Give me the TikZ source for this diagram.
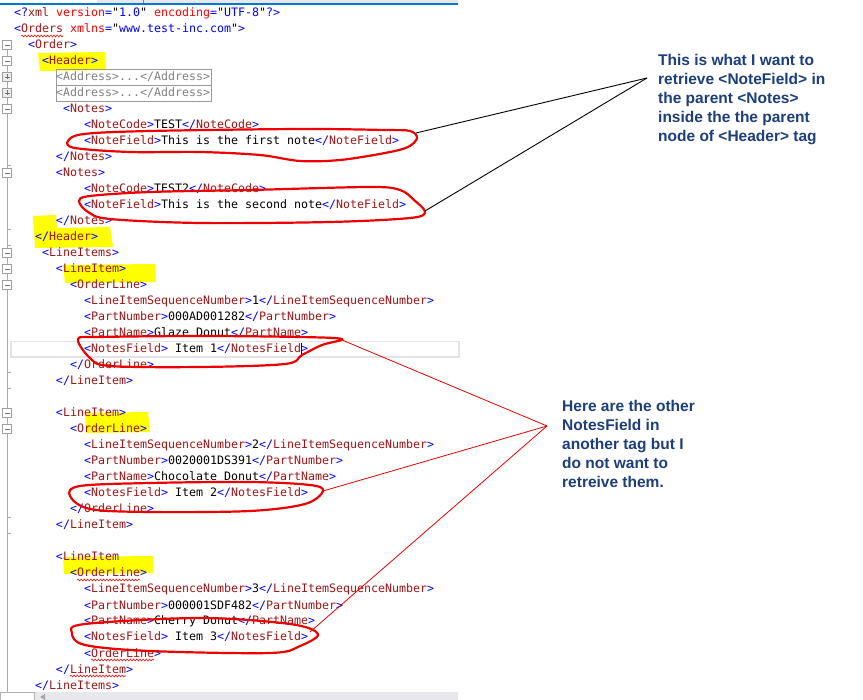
\documentclass[tikz,border=0pt]{standalone}
\usepackage{fontspec}
\usetikzlibrary{decorations.pathmorphing}
\newfontfamily\codefont{DejaVu Sans Mono}
\newfontfamily\annotfont{Liberation Sans}
\definecolor{xblue}{RGB}{0,0,255}
\definecolor{xname}{RGB}{163,21,21}
\definecolor{xattr}{RGB}{255,0,0}
\definecolor{xgray}{RGB}{128,128,128}
\definecolor{annot}{RGB}{28,62,125}
\definecolor{hl}{RGB}{255,255,0}
\definecolor{redpen}{RGB}{238,0,0}
\definecolor{vsblue}{RGB}{0,122,204}
\definecolor{chrome}{RGB}{232,232,236}
\definecolor{curline}{RGB}{226,226,232}
\definecolor{gutterc}{RGB}{170,170,170}
\newcommand\xb[1]{\textcolor{xblue}{#1}}
\newcommand\xn[1]{\textcolor{xname}{#1}}
\newcommand\xa[1]{\textcolor{xattr}{#1}}
\newcommand\xo[1]{\xb{<}\xn{#1}\xb{>}}
\newcommand\xc[1]{\xb{</}\xn{#1}\xb{>}}
\tikzset{
  code/.style={font=\codefont\fontsize{11.63}{14}\selectfont, anchor=base west, inner sep=0pt, outer sep=0pt},
  annotation/.style={font=\annotfont\bfseries\fontsize{15.5}{19}\selectfont, text=annot, align=left, anchor=base west, inner sep=0pt},
  pen/.style={draw=redpen, line width=2.2pt, line join=round},
  highlight/.style={fill=hl, draw=none},
  foldbox/.style={draw=gray!75, fill=white, minimum size=9pt, inner sep=0pt, line width=0.8pt},
  foldsign/.style={draw=gray!90!black, line width=0.9pt},
  gutter/.style={draw=gutterc, line width=0.8pt},
  blackline/.style={draw=black, line width=0.9pt},
  redline/.style={draw=redpen, line width=0.8pt},
  squiggle/.style={draw=red!85!white, line width=0.7pt, decorate, decoration={snake, amplitude=0.9pt, segment length=3.2pt}},
  addrbox/.style={draw=gray!80, line width=0.8pt}
}
\begin{document}
\begin{tikzpicture}[x=1pt,y=-1pt]
\useasboundingbox[fill=white] (0,0) rectangle (863,700);
% window chrome
\fill[chrome] (97,0) rectangle (458,3);
\fill[vsblue] (0,3) rectangle (458,5);
\draw[gray, line width=0.8pt] (143,0) -- (143,3);
\fill[chrome] (0,692) rectangle (458,700);
\draw[gray!60, fill=white] (0,692) rectangle (34,700);
\fill[gray!70] (40,697) -- (45,694) -- (45,700) -- cycle;
% current line
\draw[curline, line width=1.6pt] (11,341.5) rectangle (459,357);
% yellow highlights
\fill[highlight] (38,53) -- (105,52) -- (106,70) -- (40,71) -- cycle;
\fill[highlight] (33,216) -- (56,215) -- (57,228) -- (110,227) -- (113,247) -- (35,248) -- cycle;
\fill[highlight] (63,265) -- (155,264) -- (156,282) -- (65,283) -- cycle;
\fill[highlight] (85,413) -- (148,412) -- (150,432) -- (86,433) -- cycle;
\fill[highlight] (63,557) -- (153,556) -- (153,573) -- (64,574) -- cycle;
% gutter
\draw[gutter] (7,45) -- (7,692);
\foreach \t in {165,229,245,372,388,517,533} { \draw[gutter] (7,\t) -- (11,\t); }
\foreach \y in {45,61,109,173,253,269,285,413,429} {
  \node[foldbox] (fold\y) at (7,\y) {};
  \draw[foldsign] (4.5,\y) -- (9.5,\y);
}
\foreach \y in {77,93} {
  \node[foldbox, fill=gray!15] (fold\y) at (7,\y) {};
  \draw[foldsign] (4.5,\y) -- (9.5,\y);
  \draw[foldsign] (7,\y-2.5) -- (7,\y+2.5);
}
% address boxes
\draw[addrbox] (56,69) rectangle (211,85.5);
\draw[addrbox] (56,85.5) rectangle (211,101);
% code lines
\node[code] (l1) at (14,17) {\xb{<?}\xn{xml} \xa{version}\xb{=}"\xb{1.0}" \xa{encoding}\xb{=}"\xb{UTF-8}"\xb{?>}};
\node[code] (l2) at (14,33) {\xb{<}\xn{Orders} \xa{xmlns}\xb{=}"\xb{www.test-inc.com}"\xb{>}};
\node[code] (l3) at (28,49) {\xo{Order}};
\node[code] (l4) at (42,65) {\xo{Header}};
\node[code] (l5) at (56,81) {\textcolor{xgray}{<Address>...</Address>}};
\node[code] (l6) at (56,97) {\textcolor{xgray}{<Address>...</Address>}};
\node[code] (l7) at (63,113) {\xo{Notes}};
\node[code] (l8) at (84,129) {\xo{NoteCode}TEST\xc{NoteCode}};
\node[code] (l9) at (84,145) {\xo{NoteField}This is the first note\xc{NoteField}};
\node[code] (l10) at (56,161) {\xc{Notes}};
\node[code] (l11) at (56,177) {\xo{Notes}};
\node[code] (l12) at (84,193) {\xo{NoteCode}TEST2\xc{NoteCode}};
\node[code] (l13) at (84,209) {\xo{NoteField}This is the second note\xc{NoteField}};
\node[code] (l14) at (56,225) {\xc{Notes}};
\node[code] (l15) at (35,241) {\xc{Header}};
\node[code] (l16) at (42,257) {\xo{LineItems}};
\node[code] (l17) at (56,273) {\xo{LineItem}};
\node[code] (l18) at (70,289) {\xo{OrderLine}};
\node[code] (l19) at (84,305) {\xo{LineItemSequenceNumber}1\xc{LineItemSequenceNumber}};
\node[code] (l20) at (84,321) {\xo{PartNumber}000AD001282\xc{PartNumber}};
\node[code] (l21) at (84,337) {\xo{PartName}Glaze Donut\xc{PartName}};
\node[code] (l22) at (84,353) {\xo{NotesField} Item 1\xc{NotesField}};
\node[code] (l23) at (70,369) {\xc{OrderLine}};
\node[code] (l24) at (56,385) {\xc{LineItem}};
\node[code] (l26) at (56,417) {\xo{LineItem}};
\node[code] (l27) at (70,433) {\xo{OrderLine}};
\node[code] (l28) at (84,449) {\xo{LineItemSequenceNumber}2\xc{LineItemSequenceNumber}};
\node[code] (l29) at (84,465) {\xo{PartNumber}0020001DS391\xc{PartNumber}};
\node[code] (l30) at (84,481) {\xo{PartName}Chocolate Donut\xc{PartName}};
\node[code] (l31) at (84,497) {\xo{NotesField} Item 2\xc{NotesField}};
\node[code] (l32) at (70,513) {\xc{OrderLine}};
\node[code] (l33) at (56,529) {\xc{LineItem}};
\node[code] (l35) at (56,561) {\xb{<}\xn{LineItem}};
\node[code] (l36) at (70,577) {\xo{OrderLine}};
\node[code] (l37) at (84,593) {\xo{LineItemSequenceNumber}3\xc{LineItemSequenceNumber}};
\node[code] (l38) at (84,609) {\xo{PartNumber}000001SDF482\xc{PartNumber}};
\node[code] (l39) at (84,625) {\xo{PartName}Cherry Donut\xc{PartName}};
\node[code] (l40) at (84,641) {\xo{NotesField} Item 3\xc{NotesField}};
\node[code] (l41) at (84,657) {\xo{OrderLine}};
\node[code] (l42) at (56,673) {\xc{LineItem}};
\node[code] (l43) at (35,689) {\xc{LineItems}};
% cursor
\draw[black, line width=0.9pt] (301,343) -- (301,357);
% spell-check squiggles
\draw[squiggle] (21,36) -- (63,36);
\draw[squiggle] (77,580) -- (140,580);
\draw[squiggle] (91,660) -- (154,660);
\draw[squiggle] (70,676) -- (126,676);
% red pen loops
\draw[pen] plot[smooth cycle, tension=0.55] coordinates {(68,141) (84,134) (150,131) (300,129) (385,130) (410,131) (417,138) (408,147) (385,153) (340,160) (300,161) (260,155) (200,152) (130,152) (75,148)};
\draw[pen] plot[smooth cycle, tension=0.55] coordinates {(79,201) (90,196) (150,192) (250,190) (370,187) (400,190) (414,200) (425,212) (410,218) (330,222) (200,223) (110,219) (88,212)};
\draw[pen] plot[smooth cycle, tension=0.55] coordinates {(78,339) (100,337) (200,336) (300,337) (342,339) (322,345) (302,355) (285,364) (200,367) (110,366) (90,358)};
\draw[pen] plot[smooth cycle, tension=0.55] coordinates {(70,496) (80,486) (150,483) (250,482) (310,485) (323,491) (305,504) (250,511) (150,512) (90,509)};
\draw[pen] plot[smooth cycle, tension=0.55] coordinates {(72,633) (85,624) (200,618) (290,624) (318,634) (300,646) (270,653) (150,651) (85,645)};
% connector anchors
\coordinate (e1) at (416,133);
\coordinate (e2) at (425,211);
\coordinate (e3) at (342,340);
\coordinate (e4) at (323,491);
\coordinate (e5) at (310,632);
\coordinate (apexA) at (647,78);
\coordinate (apexB) at (547,426);
\draw[blackline] (e1) -- (apexA);
\draw[blackline] (e2) -- (apexA);
\draw[redline] (e3) -- (apexB);
\draw[redline] (e4) -- (apexB);
\draw[redline] (e5) -- (apexB);
% annotations (base anchor = last line's baseline)
\node[annotation] (noteA) at (658,142) {This is what I want to\\retrieve <NoteField> in\\the parent <Notes>\\inside the the parent\\node of <Header> tag};
\node[annotation] (noteB) at (562,488) {Here are the other\\NotesField in\\another tag but I\\do not want to\\retreive them.};
\end{tikzpicture}
\end{document}
